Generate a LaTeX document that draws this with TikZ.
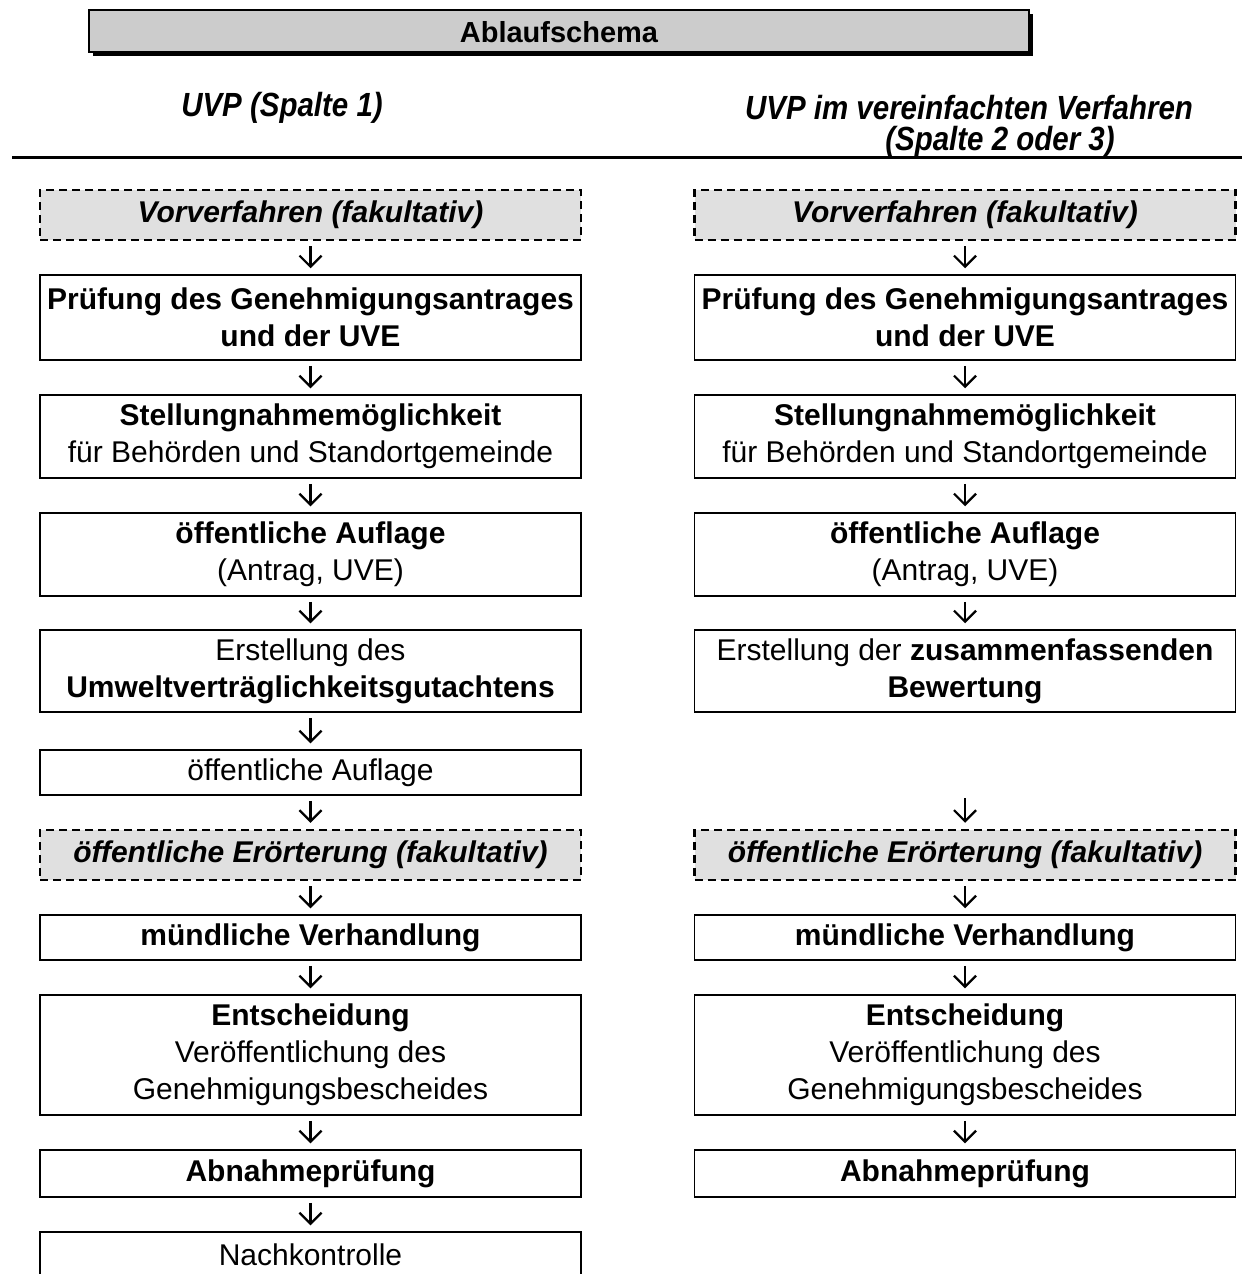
\documentclass[tikz,border=0pt]{standalone}
\usepackage{fontspec}
\setmainfont{Liberation Sans}
\newfontfamily\headfont[FakeStretch=0.88]{Liberation Sans}
\usetikzlibrary{arrows.meta}
\definecolor{titlegrey}{HTML}{CCCCCC}
\definecolor{optgrey}{HTML}{E0E0E0}
\begin{document}
\begin{tikzpicture}[x=1pt,y=-1pt,
  box/.style={draw, line width=1.5pt, minimum width=541pt, align=center, inner sep=0pt,
    font=\fontsize{30}{37}\selectfont},
  optbox/.style={box, dash pattern=on 8pt off 5pt, line width=2.5pt, fill=optgrey,
    font=\fontsize{30}{37}\selectfont\bfseries\itshape},
  head/.style={font=\headfont\fontsize{33.5}{37}\selectfont\bfseries\itshape, inner sep=0pt},
  arr/.style={line width=2.2pt, -{Straight Barb[length=11pt,width=22pt]}, shorten <=5pt, shorten >=6pt}]
\useasboundingbox (0,0) rectangle (1242,1274);
\clip (0,0) rectangle (1242,1274);
% title
\fill (93,14) rectangle (1033,56);
\draw[line width=2pt, fill=titlegrey] (89,10) rectangle (1029,52);
\node[font=\fontsize{29}{35}\selectfont\bfseries] (title) at (559,32) {Ablaufschema};
% headers
\node[head] (h1) at (282,108) {UVP (Spalte 1)};
\node[head] (h2a) at (969,108) {UVP im vereinfachten Verfahren};
\node[head] (h2b) at (1000,142) {(Spalte 2 oder 3)};
\draw[line width=3pt] (12,157) -- (1242,157);
% left column
\node[optbox, minimum height=50pt] (lvor) at (310.5,215) {Vorverfahren (fakultativ)};
\node[box, minimum height=85pt] (lpruef) at (310.5,317.5) {\textbf{Prüfung des Genehmigungsantrages}\\\textbf{und der UVE}};
\node[box, minimum height=83pt] (lstell) at (310.5,436.5) {\textbf{Stellungnahmemöglichkeit}\\für Behörden und Standortgemeinde};
\node[box, minimum height=83pt] (lauf) at (310.5,554.5) {\textbf{öffentliche Auflage}\\(Antrag, UVE)};
\node[box, minimum height=82pt] (lerst) at (310.5,671) {Erstellung des\\\textbf{Umweltverträglichkeitsgutachtens}};
\node[box, minimum height=45pt] (lauf2) at (310.5,772.5) {öffentliche Auflage};
\node[optbox, minimum height=50pt] (lero) at (310.5,855) {öffentliche Erörterung (fakultativ)};
\node[box, minimum height=45pt] (lmue) at (310.5,937.5) {\textbf{mündliche Verhandlung}};
\node[box, minimum height=120pt] (lent) at (310.5,1055) {\textbf{Entscheidung}\\Veröffentlichung des\\Genehmigungsbescheides};
\node[box, minimum height=47pt] (labn) at (310.5,1173.5) {\textbf{Abnahmeprüfung}};
\node[box, minimum height=80pt] (lnach) at (310.5,1272) {};
\node[font=\fontsize{30}{37}\selectfont, inner sep=0pt] (lnachtext) at (310.5,1255) {Nachkontrolle};
% right column
\node[optbox, minimum height=50pt] (rvor) at (965,215) {Vorverfahren (fakultativ)};
\node[box, minimum height=85pt] (rpruef) at (965,317.5) {\textbf{Prüfung des Genehmigungsantrages}\\\textbf{und der UVE}};
\node[box, minimum height=83pt] (rstell) at (965,436.5) {\textbf{Stellungnahmemöglichkeit}\\für Behörden und Standortgemeinde};
\node[box, minimum height=83pt] (rauf) at (965,554.5) {\textbf{öffentliche Auflage}\\(Antrag, UVE)};
\node[box, minimum height=82pt] (rerst) at (965,671) {Erstellung der \textbf{zusammenfassenden}\\\textbf{Bewertung}};
\coordinate (rgap) at (965,798);
\node[optbox, minimum height=50pt] (rero) at (965,855) {öffentliche Erörterung (fakultativ)};
\node[box, minimum height=45pt] (rmue) at (965,937.5) {\textbf{mündliche Verhandlung}};
\node[box, minimum height=120pt] (rent) at (965,1055) {\textbf{Entscheidung}\\Veröffentlichung des\\Genehmigungsbescheides};
\node[box, minimum height=47pt] (rabn) at (965,1173.5) {\textbf{Abnahmeprüfung}};
% arrows
\draw[arr] (lvor) -- (lpruef);
\draw[arr] (lpruef) -- (lstell);
\draw[arr] (lstell) -- (lauf);
\draw[arr] (lauf) -- (lerst);
\draw[arr] (lerst) -- (lauf2);
\draw[arr] (lauf2) -- (lero);
\draw[arr] (lero) -- (lmue);
\draw[arr] (lmue) -- (lent);
\draw[arr] (lent) -- (labn);
\draw[arr] (labn.south) -- (lnach.north);
\draw[arr] (rvor) -- (rpruef);
\draw[arr] (rpruef) -- (rstell);
\draw[arr] (rstell) -- (rauf);
\draw[arr] (rauf) -- (rerst);
\draw[arr, shorten <=0pt] (rgap) -- (rero);
\draw[arr] (rero) -- (rmue);
\draw[arr] (rmue) -- (rent);
\draw[arr] (rent) -- (rabn);
\end{tikzpicture}
\end{document}
